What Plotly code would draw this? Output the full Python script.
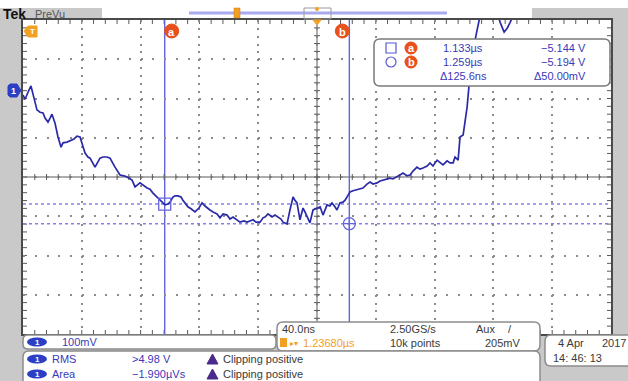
import plotly.graph_objects as go

# ---------------- acquisition settings ----------------
time_per_div_ns = 40.0          # 40.0 ns/div
volts_per_div = 0.100           # 100 mV/div
h_position_ns = 1236.8          # time at screen centre (1.23680 us)
v_center = -5.075               # volts at screen centre
n_hdiv, n_vdiv = 10, 8

# ---------------- channel 1 record ----------------
t_ns = [1036.8, 1038.2, 1040.2, 1042.2, 1044.3, 1046.3, 1048.4, 1050.4, 1051.8, 1053.8,
        1055.2, 1056.5, 1058.6, 1060.6, 1062.7, 1064.0, 1066.7, 1068.8, 1071.5, 1073.5,
        1075.6, 1079.0, 1081.0, 1082.4, 1085.8, 1089.2, 1091.2, 1094.0, 1096.0, 1099.4,
        1102.8, 1105.5, 1107.6, 1111.0, 1113.0, 1116.4, 1119.1, 1121.2, 1123.2, 1125.2,
        1128.0, 1130.0, 1132.0, 1133.4, 1135.4, 1136.8, 1138.8, 1140.2, 1142.2, 1144.3,
        1145.6, 1147.7, 1149.0, 1151.1, 1153.8, 1156.5, 1158.6, 1160.6, 1162.0, 1164.0,
        1166.1, 1168.8, 1170.8, 1172.9, 1175.6, 1177.6, 1179.7, 1182.4, 1184.4, 1187.1,
        1189.2, 1191.2, 1193.3, 1195.3, 1198.0, 1200.1, 1201.4, 1203.5, 1206.2, 1208.2,
        1210.3, 1212.3, 1213.7, 1216.4, 1218.4, 1220.5, 1221.8, 1223.2, 1225.2, 1227.3,
        1228.6, 1230.0, 1232.0, 1234.1, 1236.8, 1238.9, 1240.9, 1243.6, 1245.6, 1247.0,
        1249.0, 1250.4, 1252.4, 1254.5, 1255.9, 1257.9, 1259.3, 1261.3, 1264.0, 1266.1,
        1268.1, 1270.8, 1272.9, 1274.9, 1277.6, 1279.7, 1281.7, 1284.4, 1286.5, 1288.5,
        1291.2, 1293.3, 1295.3, 1298.0, 1300.1, 1302.1, 1304.8, 1306.9, 1308.9, 1311.7,
        1313.7, 1315.7, 1318.5, 1320.5, 1322.5, 1325.3, 1327.3, 1329.4, 1330.7, 1332.8,
        1334.1, 1336.2, 1338.9, 1341.0, 1343.0, 1345.7, 1347.8, 1354.6, 1361.4, 1364.1,
        1366.2, 1368.2, 1370.3, 1375.1, 1400.0, 1436.8]
v_ch1 = [-4.866, -4.877, -4.859, -4.843, -4.874, -4.904, -4.910, -4.912, -4.925, -4.935,
         -4.925, -4.915, -4.938, -4.973, -4.999, -4.988, -4.986, -4.983, -4.978, -4.971,
         -4.973, -5.014, -5.024, -5.027, -5.050, -5.027, -5.024, -5.024, -5.027, -5.050,
         -5.070, -5.072, -5.075, -5.083, -5.100, -5.090, -5.098, -5.103, -5.106, -5.116,
         -5.126, -5.134, -5.141, -5.146, -5.144, -5.139, -5.126, -5.123, -5.123, -5.126,
         -5.134, -5.146, -5.151, -5.156, -5.164, -5.154, -5.141, -5.149, -5.154, -5.159,
         -5.164, -5.169, -5.179, -5.169, -5.172, -5.182, -5.177, -5.184, -5.190, -5.187,
         -5.190, -5.187, -5.184, -5.190, -5.190, -5.179, -5.177, -5.169, -5.177, -5.172,
         -5.177, -5.182, -5.190, -5.195, -5.159, -5.126, -5.134, -5.141, -5.184, -5.154,
         -5.164, -5.177, -5.192, -5.159, -5.154, -5.151, -5.172, -5.146, -5.149, -5.141,
         -5.151, -5.159, -5.141, -5.139, -5.134, -5.123, -5.113, -5.110, -5.108, -5.106,
         -5.103, -5.093, -5.088, -5.093, -5.090, -5.085, -5.083, -5.080, -5.078, -5.080,
         -5.075, -5.070, -5.065, -5.072, -5.070, -5.060, -5.050, -5.055, -5.052, -5.047,
         -5.039, -5.047, -5.032, -5.037, -5.044, -5.034, -5.039, -5.039, -5.024, -5.032,
         -4.973, -4.968, -4.897, -4.810, -4.752, -4.701, -4.663, -4.600, -4.681, -4.706,
         -4.696, -4.681, -4.663, -4.550, -4.450, -4.400]
assert len(t_ns) == len(v_ch1)

# ---------------- cursors ----------------
cursor_names = ["a", "b"]
cursor_t_ns = [1133.2, 1258.8]
cursor_v = [-5.144, -5.194]

# ---------------- readout texts ----------------
ch1_scale = "100mV"
timebase = "40.0ns"
sample_rate = "2.50GS/s"
record_len = "10k points"
trig_source = "Aux"
trig_level = "205mV"
h_pos_text = "1.23680µs"
meas_names = ["RMS", "Area"]
meas_values = [">4.98 V", "−1.990µVs"]
meas_status = ["Clipping positive", "Clipping positive"]
date_text = ["4 Apr", "2017"]
time_text = "14: 46: 13"

# ---------------- screen geometry (pixels) ----------------
W, H = 628, 381
PL, PT, PW, PH = 23, 20, 588, 314

def px(x):
    return (x - PL) / PW

def py(y):
    return (PT + PH - y) / PH

x_min = h_position_ns - n_hdiv / 2 * time_per_div_ns
x_max = h_position_ns + n_hdiv / 2 * time_per_div_ns
y_min = v_center - n_vdiv / 2 * volts_per_div
y_max = v_center + n_vdiv / 2 * volts_per_div

FONT = "Liberation Sans"
BLUE_TXT = "#3a3ab8"
DARK_TXT = "#3a3a3a"
ORANGE = "#f2a024"
RED_OR = "#e8501c"
CH1 = "#2b3fc4"
CURSOR = "#6464dc"
TRACE = "#2a2aa8"

shapes = []
annots = []


def rounded_box(x0, y0, x1, y1, r=5, fill="white", line="#8c8c8c", lw=1.5):
    pts = [("M", x0 + r, y0), ("L", x1 - r, y0), ("Q", x1, y0, x1, y0 + r),
           ("L", x1, y1 - r), ("Q", x1, y1, x1 - r, y1), ("L", x0 + r, y1),
           ("Q", x0, y1, x0, y1 - r), ("L", x0, y0 + r), ("Q", x0, y0, x0 + r, y0)]
    parts = []
    for p in pts:
        cmd, coords = p[0], p[1:]
        cs = []
        for i in range(0, len(coords), 2):
            cs.append(f"{px(coords[i]):.5f},{py(coords[i + 1]):.5f}")
        parts.append(cmd + " " + " ".join(cs))
    shapes.append(dict(type="path", xref="paper", yref="paper", path=" ".join(parts) + " Z",
                       fillcolor=fill, line=dict(color=line, width=lw), layer="above"))


def text(x, y, s, color=DARK_TXT, size=11, anchor="left", bold=False, family=FONT):
    if bold:
        s = f"<b>{s}</b>"
    annots.append(dict(xref="paper", yref="paper", x=px(x), y=py(y), text=s,
                       showarrow=False, xanchor=anchor, yanchor="middle",
                       font=dict(family=family, size=size, color=color)))


def prect(x0, y0, x1, y1, fill=None, line=None, lw=1, kind="rect", layer="above"):
    shapes.append(dict(type=kind, xref="paper", yref="paper",
                       x0=px(x0), x1=px(x1), y0=py(y1), y1=py(y0),
                       fillcolor=fill if fill else "rgba(0,0,0,0)",
                       line=dict(color=line if line else "rgba(0,0,0,0)", width=lw),
                       layer=layer))


def ppath(points, fill, layer="above"):
    d = "M " + " L ".join(f"{px(a):.5f},{py(b):.5f}" for a, b in points) + " Z"
    shapes.append(dict(type="path", xref="paper", yref="paper", path=d,
                       fillcolor=fill, line=dict(color=fill, width=1), layer=layer))


# ---------------- frame outside the graticule ----------------
prect(0, 0, W, 8, fill="white", layer="below")
prect(102, 8, 532, 20, fill="white", layer="below")
text(1, 14, "Tek", color="#111111", size=14, bold=True)
text(33, 14, "PreVu", color="#555555", size=11)

# record view bar at the top
shapes.append(dict(type="line", xref="paper", yref="paper", x0=px(189), x1=px(447),
                   y0=py(13), y1=py(13), line=dict(color="#aaaaf0", width=3), layer="above"))
prect(304, 8, 331, 19, line="#9a9a9a", lw=1)
prect(234, 8, 240, 18, fill=ORANGE, line="#c07a10", lw=0.5)
prect(315, 7, 319, 11, fill=ORANGE, kind="circle")

# graticule centre cross and minor ticks
shapes.append(dict(type="line", xref="x", yref="paper", x0=h_position_ns, x1=h_position_ns,
                   y0=0, y1=1, line=dict(color="#5a5a5a", width=1), layer="between"))
shapes.append(dict(type="line", xref="paper", yref="y", x0=0, x1=1, y0=v_center, y1=v_center,
                   line=dict(color="#5a5a5a", width=1), layer="between"))
tick_line = dict(color="#5a5a5a", width=1)
for i in range(1, n_hdiv * 5):
    t = x_min + i * time_per_div_ns / 5
    for anchor, a0, a1 in ((1, 0, -4), (0, 0, 4), (v_center, -3, 3)):
        shapes.append(dict(type="line", xref="x", x0=t, x1=t,
                           yref="y" if anchor == v_center else "paper",
                           ysizemode="pixel", yanchor=anchor, y0=a0, y1=a1,
                           line=tick_line, layer="between"))
for i in range(1, n_vdiv * 5):
    v = y_min + i * volts_per_div / 5
    for anchor, a0, a1 in ((0, 0, 4), (1, 0, -4), (h_position_ns, -3, 3)):
        shapes.append(dict(type="line", yref="y", y0=v, y1=v,
                           xref="x" if anchor == h_position_ns else "paper",
                           xsizemode="pixel", xanchor=anchor, x0=a0, x1=a1,
                           line=tick_line, layer="between"))

# trigger position marker under the top edge
ppath([(313, 20), (321, 20), (317, 25)], ORANGE)
# trigger flag in the upper-left corner
ppath([(24, 31), (28, 26), (37, 26), (37, 37), (28, 37)], ORANGE)
text(32, 31.5, "T", color="white", size=8, anchor="center", bold=True)
# channel 1 ground/position flag on the left
ppath([(8, 86), (10, 84), (17, 84), (21, 90.5), (17, 97), (10, 97), (8, 95)], CH1)
text(13.5, 90.5, "1", color="white", size=9, anchor="center", bold=True)

# ---------------- cursors ----------------
for name, t, v, side in zip(cursor_names, cursor_t_ns, cursor_v, (1, -1)):
    shapes.append(dict(type="line", xref="x", yref="paper", x0=t, x1=t, y0=0, y1=1,
                       line=dict(color=CURSOR, width=1.4), layer="between"))
    shapes.append(dict(type="line", xref="paper", yref="y", x0=0, x1=1, y0=v, y1=v,
                       line=dict(color="#8282e6", width=1.5, dash="3px,3px"), layer="between"))
    cx = 7 * side
    shapes.append(dict(type="circle", xref="x", yref="paper", xsizemode="pixel",
                       ysizemode="pixel", xanchor=t, yanchor=1,
                       x0=cx - 7, x1=cx + 7, y0=-4, y1=-18,
                       fillcolor=RED_OR, line=dict(color=RED_OR, width=1), layer="above"))
    annots.append(dict(xref="x", yref="paper", x=t, y=1, xshift=cx, yshift=-11.5,
                       text=f"<b>{name}</b>", showarrow=False, xanchor="center",
                       yanchor="middle", font=dict(family=FONT, size=11, color="white")))

# ---------------- cursor readout ----------------
rounded_box(374, 39, 610, 86, r=6, line="#7a7a7a")
row_y = [48, 62, 76]
prect(386, 43, 396, 53, line="#5a5ad4", lw=1.2)
prect(386, 57, 396, 67, line="#5a5ad4", lw=1.2, kind="circle")
for name, t, v, y in zip(cursor_names, cursor_t_ns, cursor_v, row_y):
    prect(404.5, y - 6.5, 417.5, y + 6.5, fill=RED_OR, kind="circle")
    text(411, y, f"<b>{name}</b>", color="white", size=11, anchor="center")
    text(463, y, f"{t / 1000:.3f}µs", color=BLUE_TXT, anchor="center")
    text(588, y, f"−{abs(v):.3f} V", color=BLUE_TXT, anchor="right")
dt = cursor_t_ns[1] - cursor_t_ns[0]
dv = abs(cursor_v[1] - cursor_v[0]) * 1000
text(463, row_y[2], f"Δ{dt:.1f}ns", color=BLUE_TXT, anchor="center")
text(588, row_y[2], f"Δ{dv:.2f}mV", color=BLUE_TXT, anchor="right")

# ---------------- bottom readouts ----------------
rounded_box(23, 335, 276, 349, r=5)
prect(27, 337.5, 47, 346.5, fill=CH1, kind="circle")
text(37, 342, "1", color="white", size=8, anchor="center", bold=True)
text(60, 342, ch1_scale, color=BLUE_TXT)

rounded_box(277, 322, 540, 351, r=6)
text(280, 329, timebase)
text(388, 329, sample_rate)
text(474, 329, trig_source)
text(506, 329, "/")
prect(280, 338, 287, 347, fill=ORANGE)
text(288, 343, "▸▾", color=ORANGE, size=8)
text(301, 343, h_pos_text, color=ORANGE)
text(388, 343, record_len)
text(483, 343, trig_level)

rounded_box(23, 351, 540, 386, r=6)
for y, name, val, stat in zip((359, 374), meas_names, meas_values, meas_status):
    prect(27, y - 4.5, 47, y + 4.5, fill=CH1, kind="circle")
    text(37, y, "1", color="white", size=8, anchor="center", bold=True)
    text(50, y, name, color=BLUE_TXT)
    text(130, y, val, color=BLUE_TXT)
    # clipping warning triangle
    ppath([(207, y + 5), (218, y + 5), (212.5, y - 5)], "#4a2a8a")
    text(221, y, stat)

rounded_box(545, 335, 634, 366, r=6)
text(556, 343, date_text[0])
text(600, 343, date_text[1])
text(551, 358, time_text)

# ---------------- figure ----------------
fig = go.Figure()
fig.add_trace(go.Scatter(x=t_ns, y=v_ch1, mode="lines",
                         line=dict(color=TRACE, width=1.7), hoverinfo="skip"))
fig.add_trace(go.Scatter(x=[cursor_t_ns[0]], y=[cursor_v[0]], mode="markers",
                         marker=dict(symbol="square-open", size=12,
                                     line=dict(color=CURSOR, width=1.3), color=CURSOR)))
fig.add_trace(go.Scatter(x=[cursor_t_ns[1]], y=[cursor_v[1]], mode="markers",
                         marker=dict(symbol="circle-cross-open", size=12,
                                     line=dict(color=CURSOR, width=1.3), color=CURSOR)))

axis_common = dict(showticklabels=False, ticks="", zeroline=False, showline=True,
                   mirror=True, linecolor="#4a4a4a", linewidth=1.5, gridcolor="#8c8c8c",
                   gridwidth=1.5, fixedrange=True)
fig.update_layout(
    width=W, height=H,
    margin=dict(l=PL, r=W - PL - PW, t=PT, b=H - PT - PH, pad=0),
    paper_bgcolor="#c9c9c9", plot_bgcolor="white",
    showlegend=False,
    xaxis=dict(range=[x_min, x_max], tick0=x_min, dtick=time_per_div_ns,
               griddash="2px,5.85px", **axis_common),
    yaxis=dict(range=[y_min, y_max], tick0=y_min, dtick=volts_per_div,
               griddash="2px,9.76px", **axis_common),
    shapes=shapes, annotations=annots,
)
fig.write_html("out.html")
